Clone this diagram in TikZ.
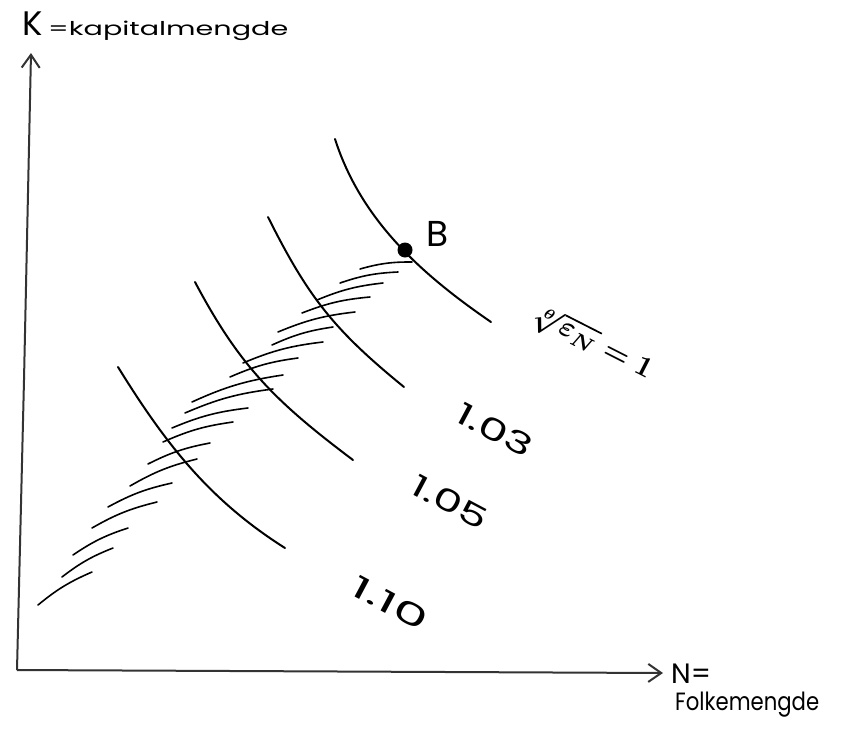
\documentclass[tikz,border=0pt]{standalone}
\usepackage{fontspec}
\setmainfont{Poppins}
\usetikzlibrary{arrows.meta}
\tikzset{
  axisline/.style={line width=2pt, draw=black!80, -{Straight Barb[length=13pt,width=18pt,line width=2pt]}},
  isoq/.style={line width=2pt, line cap=round},
  hatch/.style={line width=1.6pt, line cap=round},
  lbl/.style={inner sep=0pt, font=\fontsize{30}{30}\selectfont},
}
\begin{document}
\begin{tikzpicture}[x=1pt,y=-1pt]
\useasboundingbox (0,0) rectangle (845,739);
% axes
\coordinate (O) at (17,670);
\coordinate (Ytip) at (31,53);
\coordinate (Xtip) at (663,673);
\draw[axisline] (O) -- (24,380) -- (Ytip);
\draw[axisline] (O) -- (Xtip);
% axis labels
\node[anchor=base west, inner sep=0pt] (klab) at (22,35) {\fontsize{34}{34}\selectfont K\,\resizebox{240pt}{\height}{\fontsize{19}{19}\selectfont =kapitalmengde}};
\node[anchor=base west, inner sep=0pt] (nlab) at (671,683) {\fontsize{28}{28}\selectfont N=};
\node[anchor=base west, inner sep=0pt] (flab) at (675,710) {\resizebox{144pt}{\height}{\fontsize{25}{25}\selectfont Folkemengde}};
% isoquant curves
\draw[isoq] (118,367) .. controls (165,443) and (209,500) .. (285,548);
\draw[isoq] (195,282) .. controls (240,367) and (276,402) .. (353,460);
\draw[isoq] (268,217) .. controls (308,297) and (334,330) .. (404,387);
\draw[isoq] (335,139) .. controls (361,220) and (421,274) .. (491,322);
% hatching
\foreach \a/\b/\c/\d in {38/605/92/572, 62/577/113/548, 73/555/128/528, 92/528/157/502,
  108/507/172/483, 130/486/197/459, 148/464/210/443, 163/442/233/422, 172/428/248/408,
  185/413/273/389, 192/402/283/375, 230/377/298/358, 243/363/323/342, 272/345/333/327,
  278/332/355/312, 302/313/370/297, 317/300/383/283, 340/283/398/272, 360/269/412/262}
  \draw[hatch] (\a,\b) to[bend left=8] (\c,\d);
% point B
\node[circle, fill=black, inner sep=0pt, minimum size=15pt] (B) at (405,250) {};
\node[lbl, font=\fontsize{36}{36}\selectfont] (Blab) at (438,234) {B};
% labels of isoquants
\node[inner sep=0pt, rotate=-27] (root) at (592,343) {\normalsize\scalebox{2.9}{\boldmath$\sqrt[\theta]{\varepsilon_N}=1$}};
\node[lbl, rotate=-28] (l103) at (495,430) {\resizebox{82pt}{\height}{1.03}};
\node[lbl, rotate=-28] (l105) at (450,502) {\resizebox{82pt}{\height}{1.05}};
\node[lbl, rotate=-28] (l110) at (390,603) {\resizebox{82pt}{\height}{1.10}};
\end{tikzpicture}
\end{document}
